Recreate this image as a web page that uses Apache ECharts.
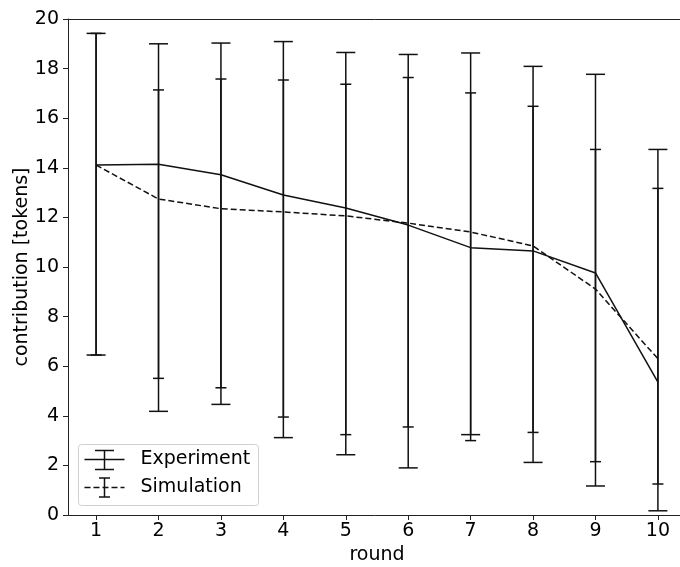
<!DOCTYPE html>
<html>
<head>
<meta charset="utf-8">
<script src="https://cdn.jsdelivr.net/npm/echarts@6/dist/echarts.min.js"></script>
<style>
  html, body { margin: 0; padding: 0; background: #fff; }
  #chart { width: 680px; height: 567px; }
</style>
</head>
<body>
<div id="chart"></div>
<script>
// Rounds of the public-goods game
const rounds = [1, 2, 3, 4, 5, 6, 7, 8, 9, 10];
const yTicks = [0, 2, 4, 6, 8, 10, 12, 14, 16, 18, 20];

// Experiment: mean contribution and error bar bounds
const expMean = [14.11, 14.14, 13.72, 12.90, 12.38, 11.69, 10.78, 10.65, 9.76, 5.36];
const expLow  = [6.45, 4.18, 4.46, 3.12, 2.43, 1.90, 3.24, 2.12, 1.17, 0.17];
const expHigh = [19.42, 19.00, 19.03, 19.09, 18.65, 18.57, 18.63, 18.09, 17.77, 14.74];

// Simulation: mean contribution and error bar bounds
const simMean = [14.11, 12.74, 12.35, 12.22, 12.06, 11.77, 11.41, 10.85, 9.11, 6.30];
const simLow  = [6.45, 5.51, 5.13, 3.95, 3.24, 3.55, 3.00, 3.33, 2.15, 1.25];
const simHigh = [19.42, 17.14, 17.58, 17.54, 17.37, 17.64, 17.02, 16.48, 14.74, 13.17];

const FONT = 'DejaVu Sans';
const INK = '#111';
const SPINE = '#222';

function errorBars(halfCap) {
  return function (params, api) {
    const x = api.value(0);
    const lo = api.coord([x, api.value(1)]);
    const hi = api.coord([x, api.value(2)]);
    const st = { stroke: INK, lineWidth: 1.5 };
    return {
      type: 'group',
      children: [
        { type: 'line', shape: { x1: lo[0], y1: lo[1], x2: hi[0], y2: hi[1] }, style: st },
        { type: 'line', shape: { x1: lo[0] - halfCap, y1: lo[1], x2: lo[0] + halfCap, y2: lo[1] }, style: st },
        { type: 'line', shape: { x1: hi[0] - halfCap, y1: hi[1], x2: hi[0] + halfCap, y2: hi[1] }, style: st }
      ]
    };
  };
}

const chart = echarts.init(document.getElementById('chart'), null, { renderer: 'canvas' });

const xMin = 0.55, xMax = 10.45;

chart.setOption({
  animation: false,
  backgroundColor: '#fff',
  grid: { left: 68, top: 19, width: 618, height: 496, containLabel: false, outerBoundsMode: 'none' },
  xAxis: [
    {
      type: 'value',
      min: xMin,
      max: xMax,
      name: 'round',
      nameLocation: 'middle',
      nameGap: 31,
      nameMoveOverlap: false,
      nameTextStyle: { fontFamily: FONT, fontSize: 19, color: '#000' },
      axisLine: { show: true, onZero: false, lineStyle: { color: SPINE, width: 1 } },
      axisTick: { show: true, length: 5, inside: false, customValues: rounds, lineStyle: { color: SPINE, width: 1 } },
      axisLabel: { customValues: rounds, margin: 7, fontFamily: FONT, fontSize: 19, color: '#000' },
      splitLine: { show: false }
    },
    {
      type: 'value',
      position: 'top',
      min: xMin,
      max: xMax,
      axisLine: { show: true, onZero: false, lineStyle: { color: SPINE, width: 1 } },
      axisTick: { show: false },
      axisLabel: { show: false },
      splitLine: { show: false }
    }
  ],
  yAxis: {
    type: 'value',
    min: 0,
    max: 20,
    interval: 2,
    name: 'contribution [tokens]',
    nameLocation: 'middle',
    nameGap: 36,
    nameMoveOverlap: false,
    nameTextStyle: { fontFamily: FONT, fontSize: 19, color: '#000' },
    axisLine: { show: true, onZero: false, lineStyle: { color: SPINE, width: 1 } },
    axisTick: { show: true, length: 5, inside: false, lineStyle: { color: SPINE, width: 1 } },
    axisLabel: { margin: 9, fontFamily: FONT, fontSize: 19, color: '#000' },
    splitLine: { show: false }
  },
  series: [
    {
      name: 'Experiment bars',
      type: 'custom',
      renderItem: errorBars(9.5),
      encode: { x: 0, y: [1, 2] },
      data: rounds.map((r, i) => [r, expLow[i], expHigh[i]]),
      z: 2
    },
    {
      name: 'Experiment',
      type: 'line',
      data: rounds.map((r, i) => [r, expMean[i]]),
      symbol: 'none',
      lineStyle: { color: INK, width: 1.5, type: 'solid' },
      z: 3
    },
    {
      name: 'Simulation bars',
      type: 'custom',
      renderItem: errorBars(5.5),
      encode: { x: 0, y: [1, 2] },
      data: rounds.map((r, i) => [r, simLow[i], simHigh[i]]),
      z: 2
    },
    {
      name: 'Simulation',
      type: 'line',
      data: rounds.map((r, i) => [r, simMean[i]]),
      symbol: 'none',
      lineStyle: { color: INK, width: 1.5, type: [6, 3] },
      z: 3
    }
  ],
  graphic: [
    {
      type: 'group',
      left: 78,
      top: 444,
      z: 10,
      children: [
        { type: 'rect', shape: { x: 0, y: 0, width: 180, height: 61, r: 3 },
          style: { fill: 'rgba(255,255,255,0.8)', stroke: '#d0d0d0', lineWidth: 1 } },
        // Experiment key
        { type: 'line', shape: { x1: 6, y1: 15, x2: 46, y2: 15 }, style: { stroke: INK, lineWidth: 1.5 } },
        { type: 'line', shape: { x1: 26, y1: 6, x2: 26, y2: 25 }, style: { stroke: INK, lineWidth: 1.5 } },
        { type: 'line', shape: { x1: 16.5, y1: 6, x2: 35.5, y2: 6 }, style: { stroke: INK, lineWidth: 1.5 } },
        { type: 'line', shape: { x1: 16.5, y1: 25, x2: 35.5, y2: 25 }, style: { stroke: INK, lineWidth: 1.5 } },
        { type: 'text', x: 62, y: 15, style: { text: 'Experiment', font: '19px "DejaVu Sans"', fill: '#000', textVerticalAlign: 'middle' } },
        // Simulation key
        { type: 'line', shape: { x1: 6, y1: 43, x2: 46, y2: 43 }, style: { stroke: INK, lineWidth: 1.5, lineDash: [6, 3] } },
        { type: 'line', shape: { x1: 26, y1: 33.5, x2: 26, y2: 52.5 }, style: { stroke: INK, lineWidth: 1.5 } },
        { type: 'line', shape: { x1: 20.5, y1: 33.5, x2: 31.5, y2: 33.5 }, style: { stroke: INK, lineWidth: 1.5 } },
        { type: 'line', shape: { x1: 20.5, y1: 52.5, x2: 31.5, y2: 52.5 }, style: { stroke: INK, lineWidth: 1.5 } },
        { type: 'text', x: 62, y: 43, style: { text: 'Simulation', font: '19px "DejaVu Sans"', fill: '#000', textVerticalAlign: 'middle' } }
      ]
    }
  ]
});
</script>
</body>
</html>
